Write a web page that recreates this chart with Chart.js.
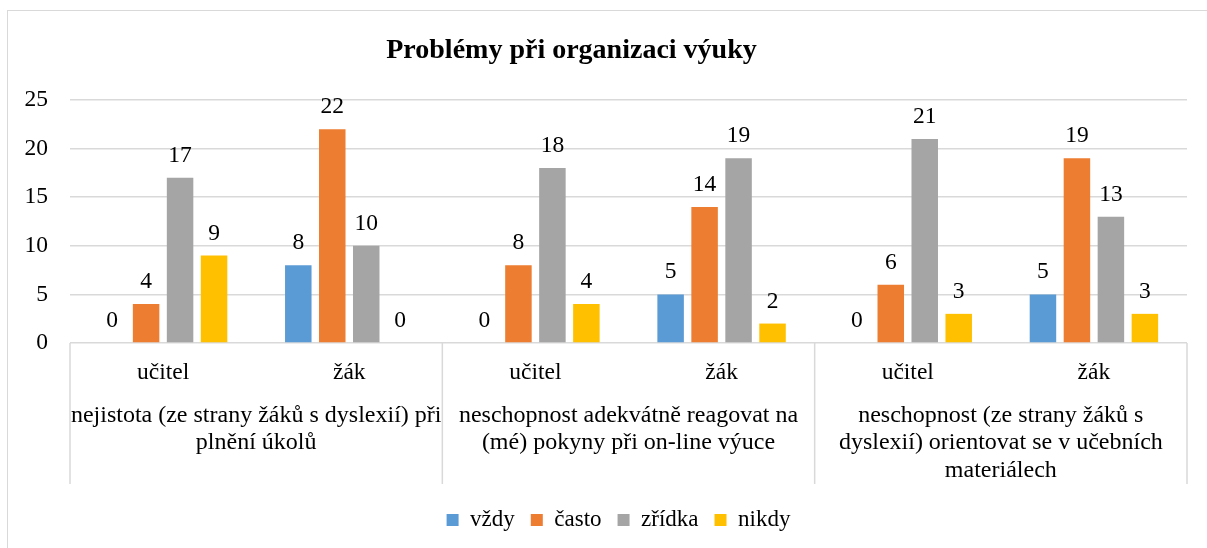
<!DOCTYPE html>
<html>
<head>
<meta charset="utf-8">
<script src="https://cdn.jsdelivr.net/npm/chart.js@4"></script>
<style>
  html, body { margin: 0; padding: 0; background: #fff; }
  #wrap { position: relative; width: 1207px; height: 548px; }
  #frame {
    position: absolute; left: 7px; top: 10px; width: 1300px; height: 600px;
    border-left: 1.5px solid #d9d9d9; border-top: 1.5px solid #d9d9d9;
    pointer-events: none;
  }
</style>
</head>
<body>
<div id="wrap">
  <canvas id="chart" width="1207" height="548"></canvas>
  <div id="frame"></div>
</div>
<script>
const groups = [
  ['nejistota (ze strany žáků s dyslexií) při', 'plnění úkolů'],
  ['neschopnost adekvátně reagovat na', '(mé) pokyny při on-line výuce'],
  ['neschopnost (ze strany žáků s', 'dyslexií) orientovat se v učebních', 'materiálech']
];
const categories = ['učitel', 'žák', 'učitel', 'žák', 'učitel', 'žák'];

const vzdy   = [0, 8, 0, 5, 0, 5];
const casto  = [4, 22, 8, 14, 6, 19];
const zridka = [17, 10, 18, 19, 21, 13];
const nikdy  = [9, 0, 4, 2, 3, 3];

const yTicks = [0, 5, 10, 15, 20, 25];

const FONT = '"Liberation Serif", "Times New Roman", serif';
const GRID = '#d9d9d9';

// data labels above each bar
const barLabels = {
  id: 'barLabels',
  afterDatasetsDraw(chart) {
    const ctx = chart.ctx;
    ctx.save();
    ctx.font = '23.5px ' + FONT;
    ctx.fillStyle = '#000';
    ctx.textAlign = 'center';
    ctx.textBaseline = 'alphabetic';
    chart.data.datasets.forEach((ds, i) => {
      chart.getDatasetMeta(i).data.forEach((bar, j) => {
        ctx.fillText(String(ds.data[j]), bar.x, bar.y - 16);
      });
    });
    ctx.restore();
  }
};

// second level of the category axis: group names + separators
const groupAxis = {
  id: 'groupAxis',
  afterLayout(chart) {
    // nudge title and legend like in the original
    chart.titleBlock.left -= 22;
    chart.titleBlock.right -= 22;
    chart.legend.left += 25;
    chart.legend.right += 25;
  },
  afterDraw(chart) {
    const x = chart.scales.x;
    const ctx = chart.ctx;
    const half = (x.getPixelForValue(1) - x.getPixelForValue(0)) / 2;
    ctx.save();
    ctx.strokeStyle = GRID;
    ctx.lineWidth = 1.5;
    const seps = [x.left];
    groups.forEach((g, gi) => seps.push(x.getPixelForValue(gi * 2 + 1) + half));
    seps[seps.length - 1] = x.right;
    seps.forEach(px => {
      ctx.beginPath();
      ctx.moveTo(px, x.top);
      ctx.lineTo(px, x.top + 141);
      ctx.stroke();
    });
    ctx.font = '24px ' + FONT;
    ctx.fillStyle = '#000';
    ctx.textAlign = 'center';
    ctx.textBaseline = 'alphabetic';
    groups.forEach((lines, gi) => {
      const cx = (x.getPixelForValue(gi * 2) + x.getPixelForValue(gi * 2 + 1)) / 2;
      lines.forEach((t, li) => ctx.fillText(t, cx, x.top + 79 + li * 27.3));
    });
    ctx.restore();
  }
};

new Chart(document.getElementById('chart'), {
  type: 'bar',
  data: {
    labels: categories,
    datasets: [
      { label: 'vždy', data: vzdy, backgroundColor: '#5B9BD5' },
      { label: 'často', data: casto, backgroundColor: '#ED7D31' },
      { label: 'zřídka', data: zridka, backgroundColor: '#A5A5A5' },
      { label: 'nikdy', data: nikdy, backgroundColor: '#FFC000' }
    ]
  },
  options: {
    responsive: false,
    animation: false,
    categoryPercentage: 0.73,
    barPercentage: 0.78,
    layout: { padding: { left: 0, right: 20, top: 0, bottom: 6.5 } },
    scales: {
      y: {
        min: 0,
        max: 25,
        afterBuildTicks: s => { s.ticks = yTicks.map(v => ({ value: v })); },
        afterFit: s => { s.width = 70; },
        ticks: { padding: 22, color: '#000', font: { family: FONT, size: 23.5 } },
        grid: { color: GRID, lineWidth: 1.5, drawTicks: false },
        border: { display: false }
      },
      x: {
        afterFit: s => { s.height = 149.5; },
        ticks: { padding: 16, color: '#000', maxRotation: 0, font: { family: FONT, size: 23.5 } },
        grid: { display: false, drawTicks: false },
        border: { display: false }
      }
    },
    plugins: {
      title: {
        display: true,
        text: 'Problémy při organizaci výuky',
        color: '#000',
        font: { family: FONT, size: 28, weight: 'bold' },
        padding: { top: 33.7, bottom: 32.7 }
      },
      legend: {
        position: 'bottom',
        labels: {
          boxWidth: 12,
          boxHeight: 12,
          padding: 16,
          color: '#000',
          font: { family: FONT, size: 23 }
        }
      },
      tooltip: { enabled: false }
    }
  },
  plugins: [barLabels, groupAxis]
});
</script>
</body>
</html>
